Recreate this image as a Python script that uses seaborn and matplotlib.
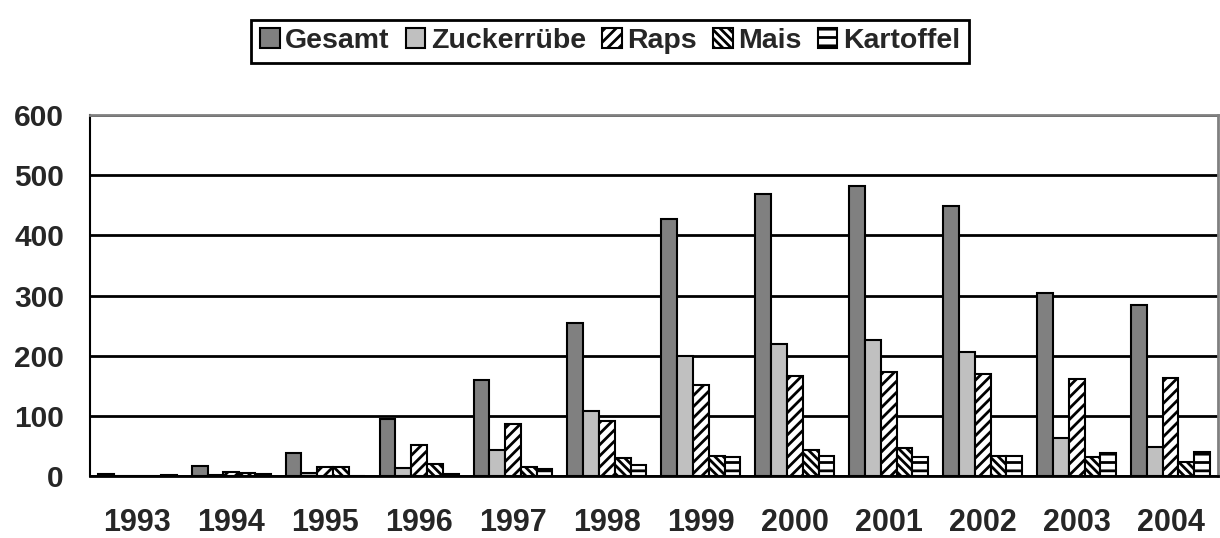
import numpy as np
import pandas as pd
import seaborn as sns
import matplotlib.pyplot as plt

years = ["1993", "1994", "1995", "1996", "1997", "1998",
         "1999", "2000", "2001", "2002", "2003", "2004"]
gesamt = [4, 17, 38, 95, 160, 255, 427, 469, 483, 449, 304, 285]
zuckerruebe = [1, 2, 6, 14, 43, 108, 200, 219, 226, 206, 63, 48]
raps = [0, 7, 15, 52, 86, 92, 151, 166, 173, 170, 161, 163]
mais = [0, 5, 15, 20, 15, 30, 34, 43, 46, 34, 31, 23]
kartoffel = [2, 3, 0, 4, 12, 19, 32, 33, 31, 34, 39, 40]

series = ["Gesamt", "Zuckerrübe", "Raps", "Mais", "Kartoffel"]
colors = ["#808080", "#C0C0C0", "white", "white", "white"]
hatches = ["", "", "///", "\\\\\\\\", "--"]

df = pd.DataFrame({
    "Jahr": years * 5,
    "Kultur": np.repeat(series, len(years)),
    "Wert": gesamt + zuckerruebe + raps + mais + kartoffel,
})

sns.set_style("white")
plt.rcParams['font.family'] = ['Liberation Sans', 'DejaVu Sans']
plt.rcParams['hatch.linewidth'] = 2.0

fig = plt.figure(figsize=(12.2, 5.38), dpi=100)
ax = fig.add_axes([0.074, 0.115, 0.924, 0.671])

sns.barplot(data=df, x="Jahr", y="Wert", hue="Kultur", hue_order=series,
            palette=colors, width=0.84, edgecolor="black", linewidth=1.5,
            saturation=1, ax=ax, legend=False)

for cont, h in zip(ax.containers, hatches):
    for bar in cont:
        bar.set_hatch(h)
        bar.set_edgecolor("black")

ax.set_ylim(0, 600)
ax.set_xlim(-0.5, len(years) - 0.5)
ax.set_yticks(range(0, 601, 100))
ax.yaxis.grid(True, color="black", linewidth=2)
ax.set_axisbelow(True)
ax.set_xlabel("")
ax.set_ylabel("")

ax.set_xticks(np.arange(-0.5, len(years), 1.0), minor=True)
ax.tick_params(axis="x", which="major", length=0, pad=23,
               labelsize=22)
ax.tick_params(axis="x", which="minor", length=10, width=1.5,
               color="black", direction="inout")
ax.tick_params(axis="y", length=12, width=1.5, color="black",
               direction="out", labelsize=21.5, pad=7)
for lab in ax.get_xticklabels() + ax.get_yticklabels():
    lab.set_fontweight("bold")

ax.spines["left"].set_color("black")
ax.spines["left"].set_linewidth(1.5)
ax.spines["bottom"].set_color("black")
ax.spines["bottom"].set_linewidth(2)
ax.spines["top"].set_color("#808080")
ax.spines["top"].set_linewidth(2)
ax.spines["right"].set_color("#808080")
ax.spines["right"].set_linewidth(2)

handles = [cont[0] for cont in ax.containers]
leg = fig.legend(handles, series, loc="upper center",
                 bbox_to_anchor=(0.5, 0.99), ncol=5, frameon=True,
                 fancybox=False, edgecolor="black", framealpha=1,
                 handlelength=0.7, handleheight=0.7, handletextpad=0.2,
                 columnspacing=0.55, borderpad=0.3,
                 prop={"size": 20.5, "weight": "bold"})
leg.get_frame().set_linewidth(2)

fig.savefig("out.png", dpi=100)
